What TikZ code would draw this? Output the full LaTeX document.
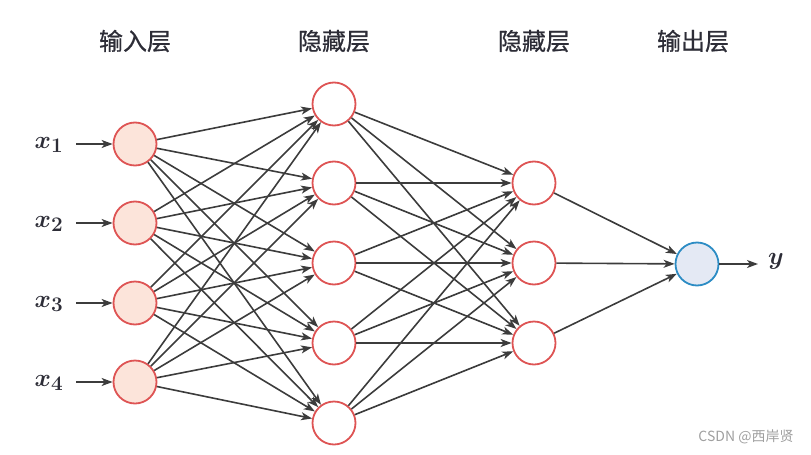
\documentclass[tikz,border=0pt]{standalone}
\usepackage{fontspec}
\newfontfamily\cjk{Noto Sans CJK SC}
\newfontfamily\cjktitle[FakeBold=0.6]{Noto Sans CJK SC}
\usetikzlibrary{arrows.meta}

\definecolor{neuronred}{RGB}{222,84,84}
\definecolor{inputfill}{RGB}{252,228,218}
\definecolor{outblue}{RGB}{44,140,196}
\definecolor{outfill}{RGB}{228,233,244}
\definecolor{edgegray}{RGB}{60,60,60}
\definecolor{titlegray}{RGB}{45,45,55}

\tikzset{every picture/.style={line width=1.6pt}}

\begin{document}
\begin{tikzpicture}[
            x=1pt,
            y=1pt,
            yscale=-1,
            xscale=1,
            neuron/.style={circle, draw=neuronred, line width=1.8pt, minimum size=43pt, inner sep=0pt},
            inneuron/.style={neuron, fill=inputfill},
            outneuron/.style={circle, draw=outblue, fill=outfill, line width=1.8pt, minimum size=43pt, inner sep=0pt},
            link/.style={draw=edgegray, line width=1.6pt, -{Stealth[length=11pt,width=8pt,inset=3pt]}},
            layertitle/.style={font=\cjktitle\fontsize{24}{26}\selectfont, text=titlegray, inner sep=0pt},
            varlabel/.style={font=\fontsize{29}{32}\selectfont\boldmath, text=titlegray, inner sep=0pt}
        ]
            \useasboundingbox (0,0) rectangle (811,455);

            % layer titles
            \node [layertitle] (t_in) at (135,41) {输入层};
            \node [layertitle] (t_h1) at (334,41) {隐藏层};
            \node [layertitle] (t_h2) at (534,41) {隐藏层};
            \node [layertitle] (t_out) at (693,41) {输出层};

            % input layer
            \node [inneuron] (i1) at (135,144) {};
            \node [inneuron] (i2) at (135,223) {};
            \node [inneuron] (i3) at (135,303) {};
            \node [inneuron] (i4) at (135,382) {};

            % first hidden layer
            \node [neuron] (h1) at (334,104) {};
            \node [neuron] (h2) at (334,183) {};
            \node [neuron] (h3) at (334,263) {};
            \node [neuron] (h4) at (334,343) {};
            \node [neuron] (h5) at (334,423) {};

            % second hidden layer
            \node [neuron] (g1) at (534,183) {};
            \node [neuron] (g2) at (534,263) {};
            \node [neuron] (g3) at (534,343) {};

            % output layer
            \node [outneuron] (o1) at (697,264) {};

            % inputs and output
            \node [varlabel] (x1) at (49,145) {$x_1$};
            \node [varlabel] (x2) at (49,224) {$x_2$};
            \node [varlabel] (x3) at (49,304) {$x_3$};
            \node [varlabel] (x4) at (49,383) {$x_4$};
            \node [varlabel] (yout) at (776,261) {$y$};

            \coordinate (a1) at (76,144);
            \coordinate (a2) at (76,223);
            \coordinate (a3) at (76,303);
            \coordinate (a4) at (76,382);
            \coordinate (ay) at (758,264);

            \draw [link] (a1) -- (i1);
            \draw [link] (a2) -- (i2);
            \draw [link] (a3) -- (i3);
            \draw [link] (a4) -- (i4);
            \draw [link] (o1) -- (ay);

            % input -> first hidden
            \draw [link] (i1) -- (h1);
            \draw [link] (i1) -- (h2);
            \draw [link] (i1) -- (h3);
            \draw [link] (i1) -- (h4);
            \draw [link] (i1) -- (h5);
            \draw [link] (i2) -- (h1);
            \draw [link] (i2) -- (h2);
            \draw [link] (i2) -- (h3);
            \draw [link] (i2) -- (h4);
            \draw [link] (i2) -- (h5);
            \draw [link] (i3) -- (h1);
            \draw [link] (i3) -- (h2);
            \draw [link] (i3) -- (h3);
            \draw [link] (i3) -- (h4);
            \draw [link] (i3) -- (h5);
            \draw [link] (i4) -- (h1);
            \draw [link] (i4) -- (h2);
            \draw [link] (i4) -- (h3);
            \draw [link] (i4) -- (h4);
            \draw [link] (i4) -- (h5);

            % first hidden -> second hidden
            \draw [link] (h1) -- (g1);
            \draw [link] (h1) -- (g2);
            \draw [link] (h1) -- (g3);
            \draw [link] (h2) -- (g1);
            \draw [link] (h2) -- (g2);
            \draw [link] (h2) -- (g3);
            \draw [link] (h3) -- (g1);
            \draw [link] (h3) -- (g2);
            \draw [link] (h3) -- (g3);
            \draw [link] (h4) -- (g1);
            \draw [link] (h4) -- (g2);
            \draw [link] (h4) -- (g3);
            \draw [link] (h5) -- (g1);
            \draw [link] (h5) -- (g2);
            \draw [link] (h5) -- (g3);

            % second hidden -> output
            \draw [link] (g1) -- (o1);
            \draw [link] (g2) -- (o1);
            \draw [link] (g3) -- (o1);

            \node [font=\cjk\fontsize{14}{16}\selectfont, text=gray!75, inner sep=0pt] (mark) at (746,437) {CSDN @西岸贤};
        \end{tikzpicture}
\end{document}
